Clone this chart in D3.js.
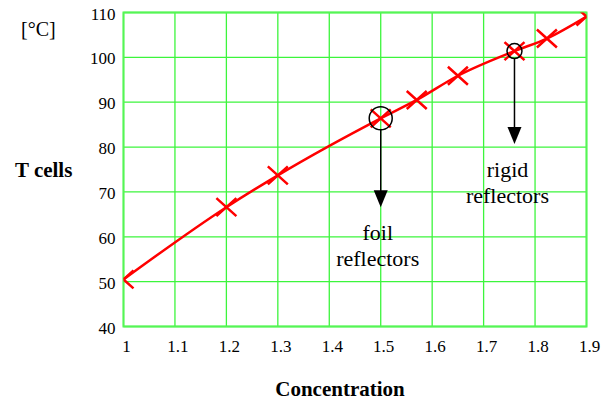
<!DOCTYPE html>
<html>
<head>
<meta charset="utf-8">
<script src="https://cdn.jsdelivr.net/npm/d3@7"></script>
<style>
  body { margin: 0; background: #fff; }
  text { font-family: "Liberation Serif", "Times New Roman", serif; fill: #000; }
</style>
</head>
<body>
<div id="chart"></div>
<script>
// concentration vs cell temperature
var concentration = [1.0, 1.2, 1.3, 1.5, 1.57, 1.65, 1.76, 1.823, 1.9];
var tCells = [50.5, 66.6, 73.7, 86.4, 90.5, 95.9, 101.4, 104.2, 109.1];

var xTicks = [1, 1.1, 1.2, 1.3, 1.4, 1.5, 1.6, 1.7, 1.8, 1.9];
var yTicks = [40, 50, 60, 70, 80, 90, 100, 110];

// marked points: index into the series, arrow end (in °C), label lines
var markIndex = [3, 6];
var markTip = [66.6, 80.7];
var markLabel = [["foil", "reflectors"], ["rigid", "reflectors"]];

function drawChart() {
    var w = 609, h = 403;
    var pLeft = 123.5, pRight = 586.5, pTop = 12.5, pBottom = 326.5;

    var svg = d3.select("#chart").append("svg")
        .attr("width", w)
        .attr("height", h);

    var x = d3.scaleLinear().domain([1, 1.9]).range([pLeft, pRight]);
    var y = d3.scaleLinear().domain([40, 110]).range([pBottom, pTop]);

    //grid
    svg.append("g").selectAll("line")
        .data(xTicks)
        .enter().append("line")
        .attr("x1", function (d) { return x(d); })
        .attr("x2", function (d) { return x(d); })
        .attr("y1", pTop).attr("y2", pBottom)
        .attr("stroke", "#3cf53c")
        .attr("stroke-width", 1.3);

    svg.append("g").selectAll("line")
        .data(yTicks)
        .enter().append("line")
        .attr("y1", function (d) { return y(d); })
        .attr("y2", function (d) { return y(d); })
        .attr("x1", pLeft).attr("x2", pRight)
        .attr("stroke", "#3cf53c")
        .attr("stroke-width", 1.3);

    // frame a bit heavier
    svg.append("rect")
        .attr("x", pLeft).attr("y", pTop)
        .attr("width", pRight - pLeft).attr("height", pBottom - pTop)
        .attr("fill", "none")
        .attr("stroke", "#55f555")
        .attr("stroke-width", 2);

    //tick labels
    svg.append("g").selectAll("text")
        .data(yTicks)
        .enter().append("text")
        .attr("x", pLeft - 8)
        .attr("y", function (d) { return y(d) + 7; })
        .attr("text-anchor", "end")
        .style("font-size", "17px")
        .text(function (d) { return d; });

    svg.append("g").selectAll("text")
        .data(xTicks)
        .enter().append("text")
        .attr("x", function (d) { return x(d) + 3; })
        .attr("y", 352)
        .attr("text-anchor", "middle")
        .style("font-size", "17px")
        .text(function (d) { return d; });

    //axis titles
    svg.append("text")
        .attr("x", 15).attr("y", 177)
        .style("font-size", "21px")
        .style("font-weight", "bold")
        .text("T cells");

    svg.append("text")
        .attr("x", 21).attr("y", 36)
        .style("font-size", "20px")
        .text("[°C]");

    svg.append("text")
        .attr("x", 340).attr("y", 396)
        .attr("text-anchor", "middle")
        .style("font-size", "21px")
        .style("font-weight", "bold")
        .text("Concentration");

    // clip for the series so end markers get cut at the frame
    svg.append("clipPath").attr("id", "plotClip")
        .append("rect")
        .attr("x", pLeft).attr("y", pTop)
        .attr("width", pRight - pLeft).attr("height", pBottom - pTop);

    var series = svg.append("g").attr("clip-path", "url(#plotClip)");

    var pts = concentration.map(function (c, i) { return [c, tCells[i]]; });

    var line = d3.line()
        .x(function (d) { return x(d[0]); })
        .y(function (d) { return y(d[1]); })
        .curve(d3.curveMonotoneX);

    series.append("path")
        .datum(pts)
        .attr("d", line)
        .attr("fill", "none")
        .attr("stroke", "#ff0000")
        .attr("stroke-width", 2.5);

    var s = 10;
    series.selectAll("path.mark")
        .data(pts)
        .enter().append("path")
        .attr("class", "mark")
        .attr("d", function (d) {
            var cx = x(d[0]), cy = y(d[1]);
            return "M" + (cx - s) + "," + (cy - s * 0.9) + "L" + (cx + s) + "," + (cy + s * 0.9) +
                "M" + (cx - s) + "," + (cy + s * 0.9) + "L" + (cx + s) + "," + (cy - s * 0.9);
        })
        .attr("stroke", "#ff0000")
        .attr("stroke-width", 2.5)
        .attr("fill", "none");

    //circles + arrows + labels
    var radii = [11.5, 7.5];
    var textShift = [-3, -7];
    markIndex.forEach(function (k, i) {
        var cx = x(concentration[k]), cy = y(tCells[k]);
        var tip = y(markTip[i]);
        svg.append("circle")
            .attr("cx", cx).attr("cy", cy).attr("r", radii[i])
            .attr("fill", "none")
            .attr("stroke", "#000")
            .attr("stroke-width", 1.5);
        svg.append("line")
            .attr("x1", cx).attr("x2", cx)
            .attr("y1", cy + radii[i]).attr("y2", tip - 16)
            .attr("stroke", "#000")
            .attr("stroke-width", 1.5);
        svg.append("path")
            .attr("d", "M" + (cx - 7) + "," + (tip - 17) + "L" + (cx + 7) + "," + (tip - 17) + "L" + cx + "," + tip + "Z")
            .attr("fill", "#000");
        markLabel[i].forEach(function (t, j) {
            svg.append("text")
                .attr("x", cx + textShift[i])
                .attr("y", tip + 33 + j * 26)
                .attr("text-anchor", "middle")
                .style("font-size", "22px")
                .text(t);
        });
    });
}

drawChart();
</script>
</body>
</html>
